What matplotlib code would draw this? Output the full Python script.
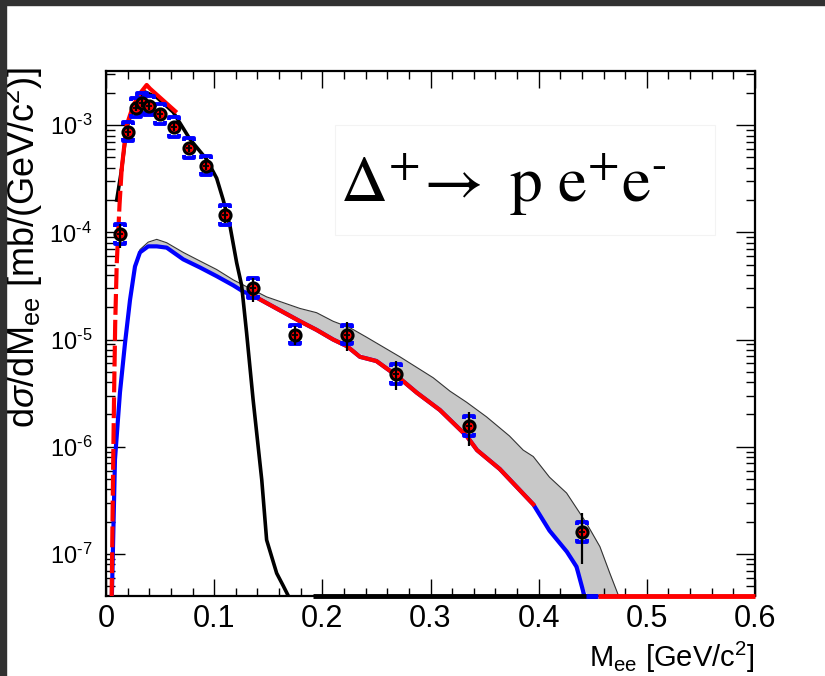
import numpy as np
import matplotlib.pyplot as plt
from matplotlib.path import Path
from matplotlib.patches import Rectangle
from matplotlib.ticker import MultipleLocator, LogLocator, NullFormatter, FuncFormatter

plt.rcParams['font.family'] = ['Liberation Sans', 'DejaVu Sans']
plt.rcParams['mathtext.fontset'] = 'custom'
plt.rcParams['mathtext.rm'] = 'Liberation Sans'
plt.rcParams['mathtext.it'] = 'Liberation Sans:italic'
plt.rcParams['mathtext.bf'] = 'Liberation Sans:bold'

YMIN, YMAX = 4.05e-8, 3.2e-3

# data points (M_ee in GeV/c^2, dsigma/dM in mb/(GeV/c^2))
pts_x = np.array([0.0129, 0.0206, 0.0274, 0.033, 0.0397, 0.0499, 0.0628, 0.077,
                  0.0924, 0.110, 0.1356, 0.1747, 0.2225, 0.268, 0.336, 0.4397])
pts_y = np.array([9.6e-5, 8.7e-4, 1.46e-3, 1.61e-3, 1.52e-3, 1.27e-3, 9.6e-4, 6.1e-4,
                  4.2e-4, 1.46e-4, 3.0e-5, 1.11e-5, 1.11e-5, 4.8e-6, 1.55e-6, 1.6e-7])
stat_rel = np.array([0.25, 0.08, 0.08, 0.08, 0.08, 0.08, 0.08, 0.08,
                     0.1, 0.17, 0.25, 0.2, 0.3, 0.3, 0.35, 0.5])
sys_up, sys_dn = 0.24, 0.19

# black curve (Delta Dalitz, low mass)
black_x = [0.0099, 0.0145, 0.019, 0.025, 0.031, 0.036, 0.0469, 0.0622, 0.0776, 0.093,
           0.1023, 0.1084, 0.1146, 0.1208, 0.1254, 0.130, 0.136, 0.144, 0.1485, 0.1578,
           0.1636, 0.170]
black_y = [2.0e-4, 3.9e-4, 9.3e-4, 1.45e-3, 1.86e-3, 2.04e-3, 1.82e-3, 1.32e-3, 7.4e-4, 4.8e-4,
           3.2e-4, 2.0e-4, 1.15e-4, 5.2e-5, 3.2e-5, 1.15e-5, 2.75e-6, 4.9e-7, 1.35e-7, 6.6e-8,
           5.1e-8, 3.8e-8]

# blue curve
blue_x = [0.0053, 0.0083, 0.0129, 0.0176, 0.0222, 0.0268, 0.0314, 0.039, 0.0469, 0.0561,
          0.0714, 0.0869, 0.1023, 0.1177, 0.1269, 0.135, 0.1793, 0.1947, 0.210, 0.2225,
          0.2348, 0.250, 0.2687, 0.2872, 0.3087, 0.3334, 0.343, 0.364, 0.395, 0.410,
          0.426, 0.435, 0.444]
blue_y = [3.5e-8, 7.6e-7, 3.2e-6, 9.3e-6, 2.34e-5, 4.8e-5, 6.5e-5, 7.4e-5, 7.4e-5, 7.2e-5,
          5.6e-5, 4.7e-5, 3.9e-5, 3.2e-5, 2.8e-5, 2.6e-5, 1.48e-5, 1.23e-5, 1.0e-5, 8.7e-6,
          6.9e-6, 6.3e-6, 4.6e-6, 3.2e-6, 2.2e-6, 1.26e-6, 9.3e-7, 6.2e-7, 2.9e-7, 1.65e-7,
          1.05e-7, 7.6e-8, 3.5e-8]

# red curve pieces
red_dash_x = [0.0052, 0.0067, 0.0075, 0.0085, 0.0099, 0.0125, 0.0145]
red_dash_y = [3.8e-8, 7.9e-7, 3.2e-6, 1.4e-5, 5.0e-5, 1.8e-4, 3.9e-4]
red_peak_x = [0.0145, 0.019, 0.025, 0.031, 0.0376, 0.0407, 0.064]
red_peak_y = [3.9e-4, 9.9e-4, 1.51e-3, 1.95e-3, 2.37e-3, 2.19e-3, 1.35e-3]
red_mid_x = [0.135, 0.1793, 0.1947, 0.210, 0.2225, 0.2348, 0.250, 0.2687, 0.2872,
             0.3087, 0.3334, 0.343, 0.364, 0.395]
red_mid_y = [2.6e-5, 1.48e-5, 1.23e-5, 1.0e-5, 8.7e-6, 6.9e-6, 6.3e-6, 4.6e-6, 3.2e-6,
             2.2e-6, 1.26e-6, 9.3e-7, 6.2e-7, 2.9e-7]

# grey uncertainty band (lower edge follows the blue curve)
band_x = [0.0222, 0.0268, 0.0314, 0.039, 0.0469, 0.0561, 0.0714, 0.0869, 0.1023, 0.1177,
          0.1331, 0.1485, 0.1793, 0.1947, 0.210, 0.2255, 0.241, 0.2717, 0.3025, 0.318,
          0.3334, 0.3518, 0.373, 0.3857, 0.395, 0.410, 0.4258, 0.444, 0.4566, 0.4658, 0.475]
band_hi = [2.40e-5, 5.0e-5, 6.9e-5, 8.1e-5, 8.6e-5, 8.0e-5, 6.5e-5, 5.4e-5, 4.5e-5, 3.6e-5,
           3.0e-5, 2.5e-5, 1.95e-5, 1.78e-5, 1.48e-5, 1.29e-5, 1.05e-5, 6.9e-6, 4.4e-6, 3.3e-6,
           2.6e-6, 1.9e-6, 1.26e-6, 9.3e-7, 8.1e-7, 5.2e-7, 3.7e-7, 1.95e-7, 1.17e-7, 6.6e-8, 3.8e-8]
band_lo = [2.34e-5, 4.8e-5, 6.5e-5, 7.4e-5, 7.4e-5, 7.2e-5, 5.6e-5, 4.7e-5, 3.9e-5, 3.2e-5,
           2.6e-5, 2.2e-5, 1.48e-5, 1.23e-5, 1.0e-5, 8.5e-6, 6.8e-6, 4.6e-6, 2.45e-6, 1.82e-6,
           1.26e-6, 7.9e-7, 4.9e-7, 3.6e-7, 2.9e-7, 1.65e-7, 1.05e-7, 4.3e-8, 1e-9, 1e-9, 1e-9]

# curves that have dropped to zero (drawn on the lower frame)
floor_black = [0.191, 0.454]
floor_blue = [0.444, 0.455]
floor_red = [0.455, 0.6]

fig = plt.figure(figsize=(8.25, 6.76), dpi=100)
fig.patches.append(Rectangle((0, 1 - 5 / 676), 1, 5 / 676, transform=fig.transFigure,
                             color='#313131', zorder=0))
fig.patches.append(Rectangle((0, 0), 6 / 825, 1, transform=fig.transFigure,
                             color='#313131', zorder=0))
ax = fig.add_axes([106 / 825, 1 - 596 / 676, 649 / 825, 525 / 676])

ax.fill_between(band_x, band_lo, band_hi, color='#c8c8c8', lw=0, zorder=1)
ax.plot(band_x, band_hi, color='#333333', lw=0.8, zorder=2)
ax.plot(blue_x, blue_y, color='#0000ff', lw=3, zorder=3)
ax.plot(black_x, black_y, color='black', lw=2.6, zorder=4)
ax.plot(red_dash_x, red_dash_y, color='red', lw=3, ls=(0, (5, 1.2)), zorder=5)
ax.plot(red_peak_x, red_peak_y, color='red', lw=3, zorder=5)
ax.plot(red_mid_x, red_mid_y, color='red', lw=3, zorder=5)
for fx, col in [(floor_black, 'black'), (floor_blue, '#0000ff'), (floor_red, 'red')]:
    ax.plot(fx, [YMIN, YMIN], color=col, lw=3.5, clip_on=False, zorder=5,
            solid_capstyle='butt')

# systematic brackets
top_br = Path([(-1, -0.7), (-1, 0), (1, 0), (1, -0.7)])
bot_br = Path([(-1, 0.7), (-1, 0), (1, 0), (1, 0.7)])
ax.plot(pts_x, pts_y * (1 + sys_up), ls='none', marker=top_br, ms=6.5, mfc='none',
        mec='#0000ff', mew=2.8, zorder=6)
ax.plot(pts_x, pts_y * (1 - sys_dn), ls='none', marker=bot_br, ms=6.5, mfc='none',
        mec='#0000ff', mew=2.8, zorder=6)

ax.plot(pts_x, pts_y, ls='none', marker='o', ms=8, mfc='red', mec='black', mew=2.2, zorder=7)
ax.errorbar(pts_x, pts_y, yerr=stat_rel * pts_y, fmt='none', ecolor='black',
            elinewidth=1.6, capsize=0, zorder=8)
ax.plot(pts_x, pts_y, ls='none', marker='_', ms=4.5, mec='black', mew=1.3, zorder=8)

ax.set_xlim(0, 0.6)
ax.set_yscale('log')
ax.set_ylim(YMIN, YMAX)
ax.xaxis.set_major_locator(MultipleLocator(0.1))
ax.xaxis.set_minor_locator(MultipleLocator(0.02))
ax.xaxis.set_major_formatter(FuncFormatter(lambda v, _: '0' if abs(v) < 1e-9 else f'{v:.1f}'))
ax.yaxis.set_major_locator(LogLocator(base=10, numticks=20))
ax.yaxis.set_minor_locator(LogLocator(base=10, subs=np.arange(2, 10), numticks=20))
ax.yaxis.set_major_formatter(FuncFormatter(
    lambda v, _: r'$10^{\text{-}%d}$' % round(-np.log10(v))))
ax.yaxis.set_minor_formatter(NullFormatter())
ax.tick_params(which='both', direction='in', top=True, right=True, width=1)
ax.tick_params(axis='x', which='major', length=12, labelsize=22, pad=6)
ax.tick_params(axis='x', which='minor', length=6)
ax.tick_params(axis='y', which='major', length=14, labelsize=17, pad=10)
ax.tick_params(axis='y', which='minor', length=6.5)
for s in ax.spines.values():
    s.set_linewidth(1.6)

ax.text(1.0, -0.135, r'M$_{\rm ee}$ [GeV/c$^{2}$]', transform=ax.transAxes,
        ha='right', va='baseline', fontsize=21)
ax.text(-0.128, 1.008, r'd$\sigma$/dM$_{\rm ee}$ [mb/(GeV/c$^{2}$)]', transform=ax.transAxes,
        rotation=90, ha='center', va='top', fontsize=26)

ax.add_patch(Rectangle((0.353, 0.688), 0.585, 0.21, transform=ax.transAxes,
                       facecolor='white', edgecolor='#f3f3f3', lw=0.8, zorder=9))
ax.text(0.612, 0.75, r'$\Delta^{+}\!\rightarrow\ \mathrm{p\ e^{+}e^{\text{-}}}$',
        transform=ax.transAxes, math_fontfamily='stix', fontsize=47,
        ha='center', va='baseline', zorder=10)

fig.savefig('out.png', dpi=100)
